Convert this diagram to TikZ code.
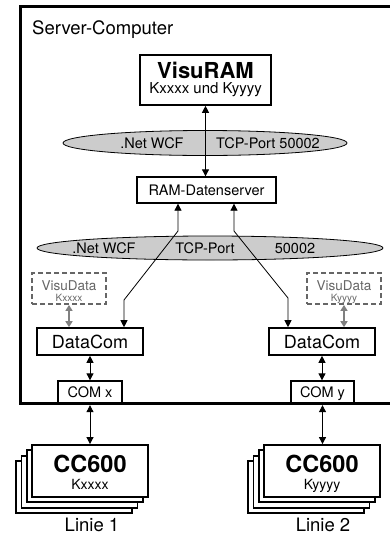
\documentclass[tikz,border=0pt]{standalone}
\usepackage{fontspec}
\setmainfont{TeX Gyre Heros}
\usetikzlibrary{arrows.meta,shapes.geometric}
\begin{document}
\begin{tikzpicture}[x=1pt,y=-1pt,
  box/.style={draw,line width=1.6pt,fill=white,inner sep=0pt},
  thinbox/.style={draw,line width=1.3pt,fill=white,inner sep=0pt},
  dbox/.style={draw=black!60,dashed,dash pattern=on 5pt off 3pt,line width=1.8pt,fill=white,inner sep=0pt},
  wcf/.style={ellipse,draw,line width=0.8pt,fill=black!20,inner sep=0pt},
  txt/.style={inner sep=0pt,anchor=base,font=\fontsize{14.5pt}{17pt}\selectfont},
  bigtxt/.style={inner sep=0pt,anchor=base,font=\fontsize{22pt}{26pt}\selectfont\bfseries},
  biarrow/.style={{Triangle[length=7pt,width=7pt]}-{Triangle[length=7pt,width=7pt]},line width=0.8pt},
  grayarrow/.style={{Triangle[length=6pt,width=7pt]}-{Triangle[length=6pt,width=7pt]},line width=1.8pt,draw=black!50,fill=black!50},
  stacklayer/.style={draw,line width=1.8pt,fill=white}
]
\useasboundingbox (0,0) rectangle (390,536);

% server frame
\draw[line width=3pt] (390,6) -- (20,6) -- (20,403) -- (390,403);
\node[txt,anchor=base west,font=\fontsize{18.5pt}{21pt}\selectfont] (srv) at (32,34) {Server-Computer};

% VisuRAM
\node[box,minimum width=131pt,minimum height=50pt] (visuram) at (205.5,80) {};
\node[bigtxt,font=\fontsize{22pt}{25pt}\selectfont\bfseries] (visuramt) at (205.5,78) {VisuRAM};
\node[txt,font=\fontsize{15pt}{17pt}\selectfont] (visuramk) at (205.5,93.5) {Kxxxx und Kyyyy};

% ellipse 1
\node[wcf,minimum width=284pt,minimum height=25pt] (wcf1) at (205,143) {};
\node[txt] (wcf1a) at (152,148) {.Net WCF};
\node[txt] (wcf1b) at (268,148) {TCP-Port 50002};

% RAM-Datenserver
\node[thinbox,minimum width=139pt,minimum height=26pt] (ram) at (206.5,190) {};
\node[txt] (ramt) at (206.5,195) {RAM-Datenserver};

\draw[biarrow] (visuram.south) -- (visuram.south |- ram.north);

% ellipse 2
\node[wcf,minimum width=346pt,minimum height=24pt] (wcf2) at (210,248) {};
\node[txt] (wcf2a) at (104,253) {.Net WCF};
\node[txt] (wcf2b) at (205,253) {TCP-Port};
\node[txt] (wcf2c) at (295,253) {50002};

% VisuData boxes
\node[dbox,minimum width=74pt,minimum height=31pt] (vdl) at (69,288.5) {};
\node[txt,text=black!60,font=\fontsize{13.5pt}{15pt}\selectfont] (vdlt) at (69,290.5) {VisuData};
\node[txt,text=black!60,font=\fontsize{10pt}{12pt}\selectfont] (vdlk) at (69,301.5) {Kxxxx};
\node[dbox,minimum width=74pt,minimum height=31pt] (vdr) at (344,288.5) {};
\node[txt,text=black!60,font=\fontsize{13.5pt}{15pt}\selectfont] (vdrt) at (344,290.5) {VisuData};
\node[txt,text=black!60,font=\fontsize{10pt}{12pt}\selectfont] (vdrk) at (344,301.5) {Kyyyy};

% DataCom boxes
\node[box,minimum width=106pt,minimum height=27pt] (dcl) at (90,341.5) {};
\node[txt,font=\fontsize{18pt}{20pt}\selectfont] (dclt) at (90,348) {DataCom};
\node[box,minimum width=106pt,minimum height=27pt] (dcr) at (322,341.5) {};
\node[txt,font=\fontsize{18pt}{20pt}\selectfont] (dcrt) at (322,348) {DataCom};

% diagonal connectors
\coordinate (la) at (178,231);
\coordinate (lb) at (124,300);
\coordinate (ra) at (234,231);
\coordinate (rb) at (288,298);
\draw[biarrow] ([xshift=-28.5pt]ram.south) -- (la) -- (lb) -- ([xshift=34pt]dcl.north);
\draw[biarrow] ([xshift=27.5pt]ram.south) -- (ra) -- (rb) -- ([xshift=-34pt]dcr.north);

% gray arrows
\draw[grayarrow] (vdl.south) -- (vdl.south |- dcl.north);
\draw[grayarrow] (vdr.south) -- (vdr.south |- dcr.north);

% COM boxes
\node[thinbox,minimum width=64pt,minimum height=22pt] (comx) at (90,392) {};
\node[txt,font=\fontsize{14.5pt}{16pt}\selectfont] (comxt) at (90,397.5) {COM x};
\node[thinbox,minimum width=63pt,minimum height=22pt] (comy) at (322.5,392) {};
\node[txt,font=\fontsize{14.5pt}{16pt}\selectfont] (comyt) at (322.5,397.5) {COM y};
\draw[line width=3pt] (20,403) -- (390,403);

\draw[biarrow] (dcl.south) -- (dcl.south |- comx.north);
\draw[biarrow] (dcr.south) -- (dcr.south |- comy.north);

% CC600 stacks
\foreach \k in {3,2,1} {
  \draw[stacklayer] ({32-5.3*\k},{445+5.3*\k}) rectangle ++(116,52);
  \draw[stacklayer] ({264-5.3*\k},{445+5.3*\k}) rectangle ++(116,52);
}
\node[box,line width=1.8pt,minimum width=116pt,minimum height=52pt] (ccl) at (90,471) {};
\node[bigtxt,font=\fontsize{23.5pt}{26pt}\selectfont\bfseries] (cclt) at (90,472) {CC600};
\node[txt,font=\fontsize{14pt}{16pt}\selectfont] (cclk) at (90,489) {Kxxxx};
\node[box,line width=1.8pt,minimum width=116pt,minimum height=52pt] (ccr) at (322,471) {};
\node[bigtxt,font=\fontsize{23.5pt}{26pt}\selectfont\bfseries] (ccrt) at (322,472) {CC600};
\node[txt,font=\fontsize{14pt}{16pt}\selectfont] (ccrk) at (322,489) {Kyyyy};

\draw[biarrow] ([yshift=-1.5pt]comx.south) -- (comx.south |- ccl.north);
\draw[biarrow] ([yshift=-1.5pt]comy.south) -- (comy.south |- ccr.north);

\node[txt,font=\fontsize{18.5pt}{20pt}\selectfont] (l1) at (92,531) {Linie 1};
\node[txt,font=\fontsize{18.5pt}{20pt}\selectfont] (l2) at (323,531) {Linie 2};
\end{tikzpicture}
\end{document}
